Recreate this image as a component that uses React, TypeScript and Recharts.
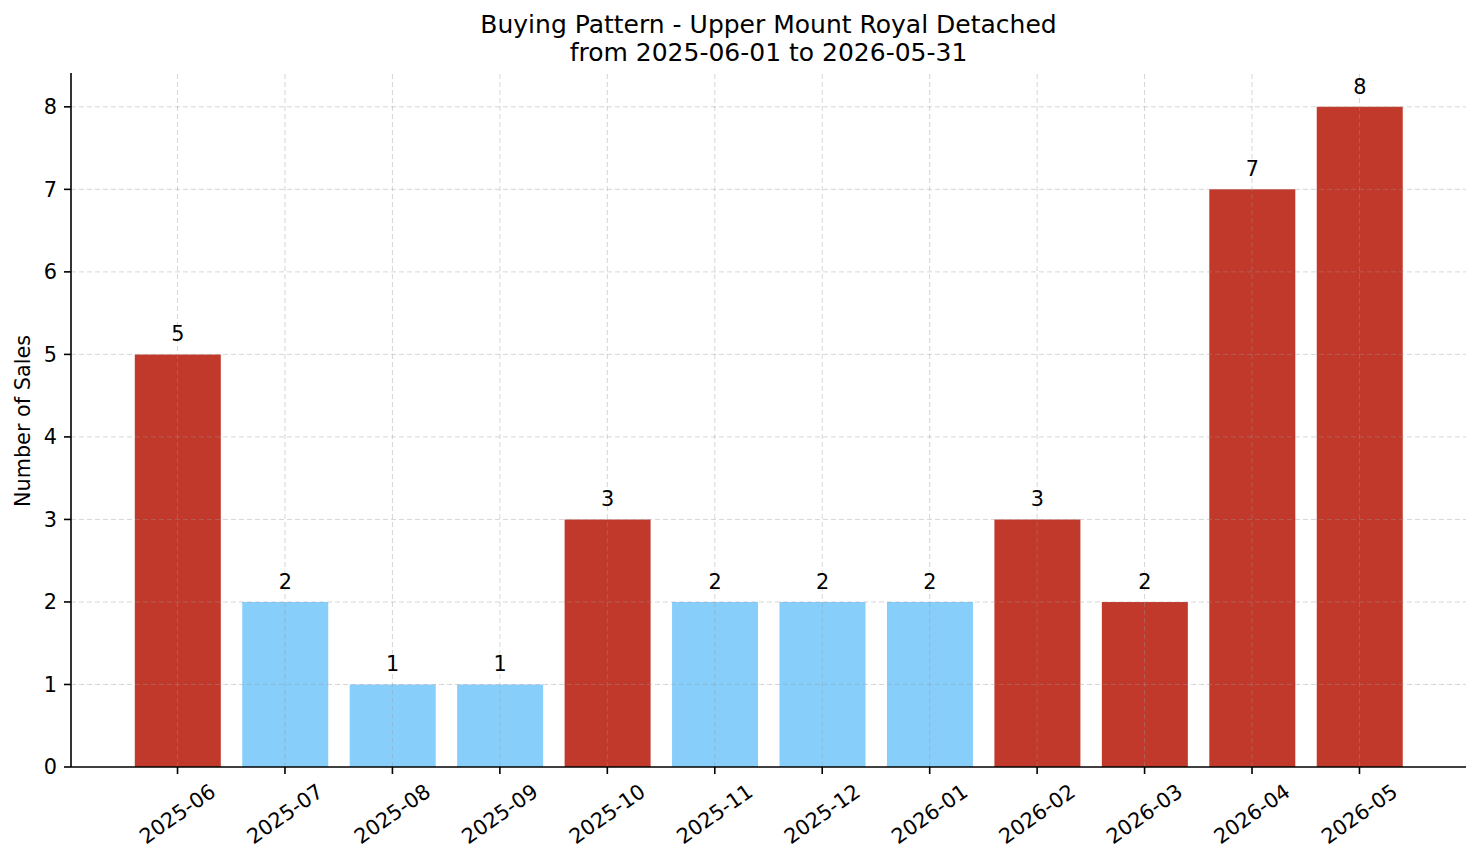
import { BarChart, Bar, XAxis, YAxis, ReferenceLine, LabelList, Cell } from "recharts"

const months = [
  "2025-06", "2025-07", "2025-08", "2025-09", "2025-10", "2025-11",
  "2025-12", "2026-01", "2026-02", "2026-03", "2026-04", "2026-05",
]
const sales = [5, 2, 1, 1, 3, 2, 2, 2, 3, 2, 7, 8]
// which months are drawn red (busy) vs light blue (quiet)
const busy = [true, false, false, false, true, false, false, false, true, true, true, true]
const yTicks = [0, 1, 2, 3, 4, 5, 6, 7, 8]

const data = months.map((m, i) => ({ month: m, sales: sales[i], busy: busy[i] }))

const FONT = "DejaVu Sans, sans-serif"
const RED = "#c0392b"
const BLUE = "#87cefa"
const GRID = { stroke: "#999", strokeOpacity: 0.4, strokeDasharray: "5 3", strokeWidth: 1 }

function MonthTick(props: any) {
  const { x, y, payload } = props
  const cy = y + 33
  return (
    <text
      x={x}
      y={cy}
      textAnchor="middle"
      dominantBaseline="central"
      fontSize={20.8}
      fontFamily={FONT}
      fill="#000"
      transform={`rotate(-35, ${x}, ${cy})`}
    >
      {payload.value}
    </text>
  )
}

export default function App() {
  return (
    <div style={{ position: "absolute", left: 0, top: 0, width: 1481, height: 863, background: "#fff" }}>
      <svg width={1481} height={863} style={{ position: "absolute", left: 0, top: 0, pointerEvents: "none" }}>
        <text x={768.5} y={33} textAnchor="middle" fontSize={25} fontFamily={FONT} fill="#000">
          Buying Pattern - Upper Mount Royal Detached
        </text>
        <text x={768.5} y={61} textAnchor="middle" fontSize={25} fontFamily={FONT} fill="#000">
          from 2025-06-01 to 2026-05-31
        </text>
        <text
          x={30}
          y={421}
          textAnchor="middle"
          fontSize={20.8}
          fontFamily={FONT}
          fill="#000"
          transform="rotate(-90, 30, 421)"
        >
          Number of Sales
        </text>
      </svg>
      <BarChart
        width={1481}
        height={863}
        data={data}
        margin={{ top: 73, right: 15, bottom: 0, left: 0 }}
        barCategoryGap={0}
      >
        <XAxis
          dataKey="month"
          padding={{ left: 52.8, right: 52.8 }}
          height={96}
          interval={0}
          tickSize={7}
          tickMargin={7}
          tick={<MonthTick />}
          axisLine={{ stroke: "#000", strokeWidth: 1.6 }}
          tickLine={{ stroke: "#000", strokeWidth: 1.6 }}
        />
        <YAxis
          type="number"
          domain={[0, 8.41]}
          ticks={yTicks}
          width={71}
          tickSize={7}
          tickMargin={7}
          allowDataOverflow
          axisLine={{ stroke: "#000", strokeWidth: 1.6 }}
          tickLine={{ stroke: "#000", strokeWidth: 1.6 }}
          tick={{ fontSize: 20.8, fontFamily: FONT, fill: "#000" }}
        />
        <Bar dataKey="sales" barSize={86} isAnimationActive={false}>
          {data.map((d) => (
            <Cell key={d.month} fill={d.busy ? RED : BLUE} />
          ))}
          <LabelList
            dataKey="sales"
            position="top"
            offset={13}
            fontSize={20.8}
            fontFamily={FONT}
            fill="#000"
          />
        </Bar>
        {months.map((m) => (
          <ReferenceLine key={`v-${m}`} x={m} {...GRID} />
        ))}
        {yTicks.filter((t) => t > 0).map((t) => (
          <ReferenceLine key={`h-${t}`} y={t} {...GRID} />
        ))}
      </BarChart>
    </div>
  )
}
